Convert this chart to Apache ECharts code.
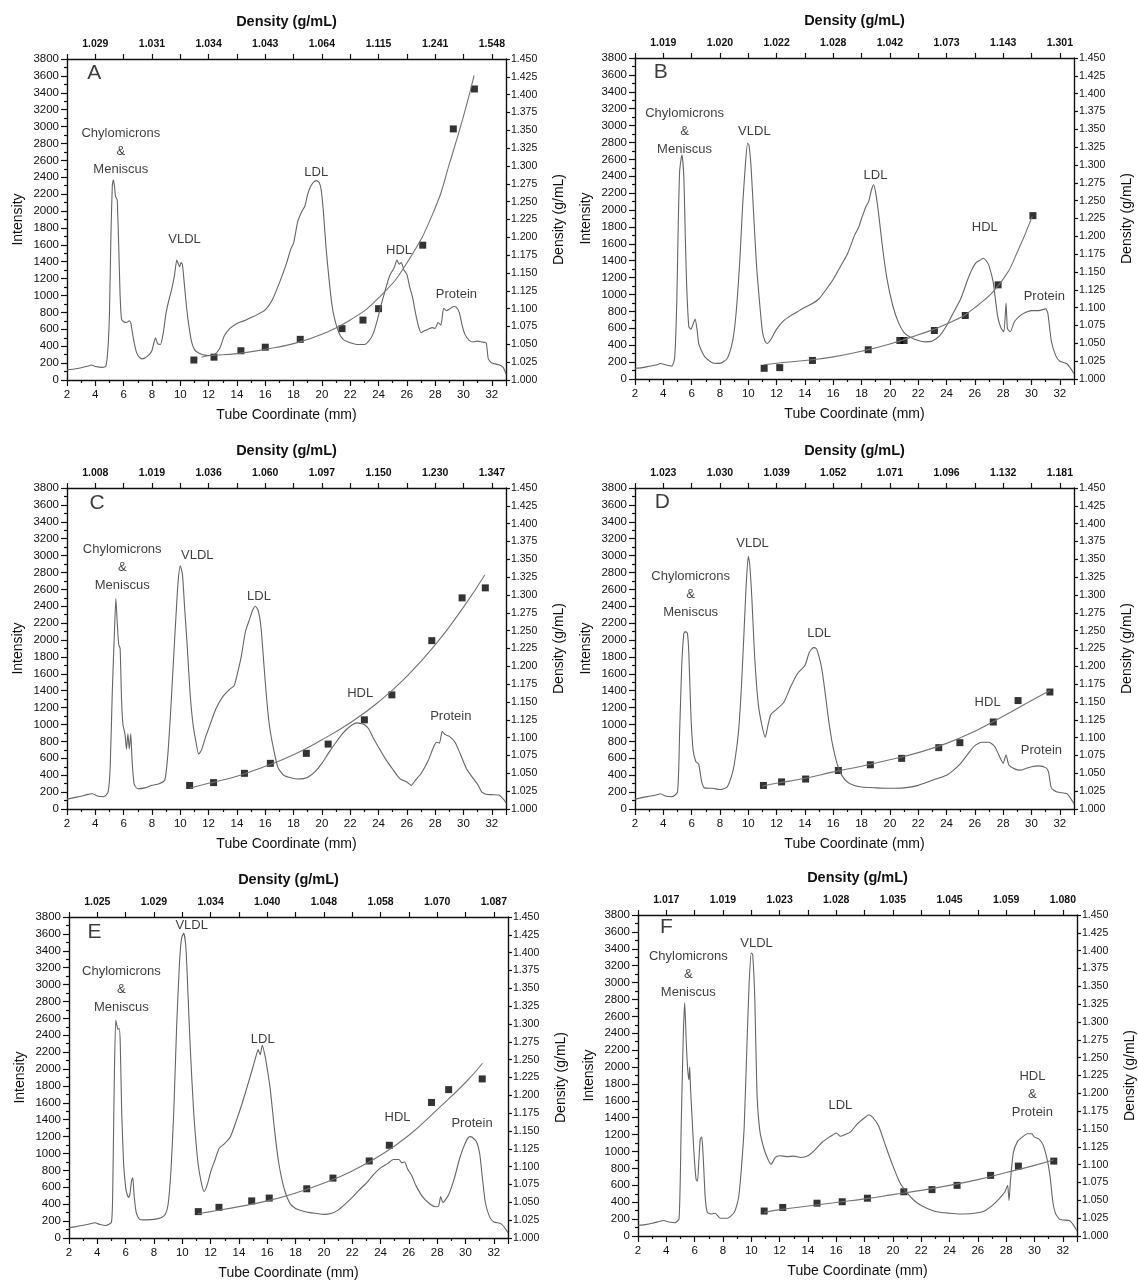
<!DOCTYPE html>
<html>
<head>
<meta charset="utf-8">
<title>Lipoprotein density profiles</title>
<script src="https://cdn.jsdelivr.net/npm/echarts@6/dist/echarts.min.js"></script>
<style>
  html, body { margin: 0; padding: 0; background: #ffffff; }
  #chart { width: 1138px; height: 1285px; }
</style>
</head>
<body>
<div id="chart"></div>
<script>
// ---- Intensity traces: [tube coordinate (mm), intensity] ----
const traceA = [[2.0,120],[2.5,130],[3.0,145],[3.5,165],[3.7,178],[4.0,160],[4.5,150],[4.75,165],[4.9,400],[5.0,800],[5.1,1700],[5.2,2300],[5.27,2370],[5.35,2300],[5.42,2180],[5.5,2150],[5.55,2130],[5.65,1600],[5.75,1000],[5.85,720],[6.0,690],[6.2,680],[6.4,700],[6.5,680],[6.7,480],[6.9,330],[7.1,270],[7.3,250],[7.5,260],[7.8,300],[8.0,350],[8.15,450],[8.25,500],[8.4,430],[8.6,420],[8.8,560],[9.0,800],[9.2,950],[9.4,1080],[9.6,1250],[9.75,1420],[9.85,1380],[9.95,1340],[10.05,1390],[10.15,1370],[10.3,1110],[10.45,850],[10.6,650],[10.8,450],[11.0,360],[11.3,320],[11.6,300],[12.0,290],[12.4,300],[12.8,380],[13.1,520],[13.5,610],[14.0,670],[14.5,700],[15.0,740],[15.5,780],[16.0,830],[16.5,950],[17.0,1150],[17.5,1380],[17.8,1550],[18.0,1620],[18.3,1880],[18.6,2000],[18.8,2060],[19.0,2200],[19.2,2290],[19.4,2340],[19.6,2360],[19.8,2340],[19.95,2250],[20.1,2000],[20.3,1550],[20.5,1200],[20.7,900],[20.9,720],[21.2,560],[21.5,480],[22.0,440],[22.5,420],[23.0,420],[23.3,460],[23.6,540],[23.9,700],[24.2,900],[24.5,1080],[24.8,1240],[25.1,1330],[25.3,1420],[25.45,1370],[25.6,1390],[25.8,1300],[26.0,1250],[26.2,1100],[26.4,980],[26.6,800],[26.8,650],[27.0,560],[27.2,580],[27.5,600],[27.8,620],[28.0,610],[28.2,680],[28.4,650],[28.6,850],[28.8,820],[29.0,840],[29.3,870],[29.5,860],[29.7,800],[29.9,650],[30.1,540],[30.4,470],[30.7,450],[31.0,460],[31.3,450],[31.6,440],[31.75,250],[32.0,200],[32.5,180],[32.8,150],[33.0,70]];
const traceB = [[2.0,125],[2.5,135],[3.0,150],[3.5,165],[3.8,183],[4.2,165],[4.6,152],[4.8,250],[4.95,900],[5.05,1800],[5.15,2450],[5.25,2600],[5.32,2650],[5.45,2380],[5.55,1700],[5.65,1100],[5.8,620],[5.95,590],[6.1,650],[6.25,710],[6.4,560],[6.5,420],[6.8,300],[7.0,250],[7.5,190],[8.0,185],[8.5,240],[8.8,380],[9.0,560],[9.2,900],[9.4,1400],[9.6,2050],[9.8,2550],[9.95,2790],[10.05,2770],[10.2,2500],[10.4,1880],[10.6,1300],[10.8,900],[11.0,560],[11.2,440],[11.35,420],[11.6,470],[12.0,590],[12.5,690],[13.0,750],[13.5,800],[14.0,850],[14.5,890],[15.0,950],[15.5,1060],[16.0,1180],[16.5,1330],[17.0,1480],[17.5,1700],[17.8,1800],[18.0,1900],[18.3,2040],[18.5,2100],[18.7,2240],[18.85,2300],[19.0,2200],[19.2,1960],[19.5,1530],[19.8,1180],[20.2,870],[20.6,670],[21.0,550],[21.5,490],[22.0,455],[22.5,440],[23.0,450],[23.5,510],[24.0,630],[24.5,790],[25.0,950],[25.5,1180],[25.8,1300],[26.1,1380],[26.4,1410],[26.6,1430],[26.8,1400],[27.0,1340],[27.3,1140],[27.6,750],[27.85,600],[28.05,560],[28.2,900],[28.3,600],[28.5,560],[28.8,680],[29.2,750],[29.6,790],[30.0,810],[30.5,810],[31.0,830],[31.15,780],[31.4,450],[31.7,280],[32.0,210],[32.5,180],[32.9,90],[33.0,60]];
const traceC = [[2.0,117],[2.5,135],[3.0,150],[3.4,170],[3.8,180],[4.2,150],[4.6,145],[4.9,200],[5.05,500],[5.2,1400],[5.35,2100],[5.45,2490],[5.55,2200],[5.65,1950],[5.75,1900],[5.85,1300],[5.95,1000],[6.1,880],[6.2,710],[6.3,890],[6.4,710],[6.5,890],[6.6,560],[6.75,290],[7.0,240],[7.5,250],[8.0,280],[8.5,300],[8.9,340],[9.1,600],[9.3,1100],[9.5,1700],[9.7,2300],[9.85,2700],[10.0,2880],[10.15,2780],[10.3,2400],[10.5,1900],[10.7,1350],[10.9,1000],[11.1,800],[11.3,650],[11.5,700],[11.8,860],[12.0,950],[12.5,1180],[13.0,1330],[13.5,1420],[13.8,1460],[14.0,1580],[14.3,1800],[14.6,2100],[14.9,2250],[15.1,2350],[15.3,2400],[15.5,2350],[15.7,2150],[15.9,1720],[16.1,1300],[16.3,980],[16.6,700],[16.9,490],[17.3,400],[17.8,370],[18.3,355],[18.7,360],[19.0,375],[19.5,440],[20.0,540],[20.5,670],[21.0,790],[21.5,900],[22.0,980],[22.5,1020],[22.8,1010],[23.0,1000],[23.3,950],[23.6,850],[24.0,730],[24.5,590],[25.0,470],[25.5,360],[26.0,320],[26.3,280],[26.6,340],[27.0,420],[27.5,570],[27.9,740],[28.1,790],[28.3,780],[28.5,920],[28.7,880],[29.0,860],[29.4,790],[29.8,640],[30.2,480],[30.6,380],[31.0,290],[31.3,200],[31.6,175],[32.0,170],[32.5,165],[32.9,100],[33.0,70]];
const traceD = [[2.0,117],[2.5,135],[3.0,150],[3.5,165],[3.8,180],[4.2,150],[4.6,145],[5.0,200],[5.15,900],[5.3,1700],[5.45,2080],[5.55,2100],[5.7,2080],[5.8,1850],[5.95,1100],[6.1,700],[6.3,560],[6.5,530],[6.7,330],[6.9,250],[7.5,245],[8.0,230],[8.5,260],[8.8,380],[9.0,520],[9.3,900],[9.5,1400],[9.7,2100],[9.85,2650],[10.0,2990],[10.1,2900],[10.25,2500],[10.45,1800],[10.7,1250],[10.95,1000],[11.2,850],[11.4,1000],[11.6,1120],[12.0,1180],[12.5,1260],[13.0,1450],[13.5,1610],[14.0,1700],[14.3,1850],[14.6,1910],[14.8,1900],[15.0,1800],[15.2,1650],[15.4,1410],[15.7,1020],[16.0,720],[16.4,470],[16.8,350],[17.3,290],[18.0,260],[19.0,250],[20.0,245],[21.0,250],[22.0,280],[23.0,340],[24.0,400],[24.5,460],[25.0,540],[25.5,650],[26.0,750],[26.5,790],[27.0,790],[27.4,740],[27.8,600],[28.0,540],[28.2,640],[28.4,520],[28.8,475],[29.2,460],[29.6,480],[30.0,500],[30.5,510],[31.0,490],[31.2,440],[31.4,250],[31.8,200],[32.5,180],[32.9,90],[33.0,60]];
const traceE = [[2.0,121],[2.5,135],[3.0,150],[3.5,168],[3.8,180],[4.2,160],[4.6,148],[5.0,187],[5.1,700],[5.2,1900],[5.3,2580],[5.38,2520],[5.45,2470],[5.55,2480],[5.62,2300],[5.72,1500],[5.85,900],[6.0,600],[6.1,520],[6.2,480],[6.3,520],[6.42,680],[6.5,715],[6.6,500],[6.75,300],[7.0,220],[7.5,215],[8.0,220],[8.5,240],[8.8,280],[9.0,400],[9.2,800],[9.4,1500],[9.6,2500],[9.8,3250],[9.95,3550],[10.1,3610],[10.25,3450],[10.4,2900],[10.55,2300],[10.8,1500],[11.1,900],[11.35,650],[11.55,550],[11.8,650],[12.0,780],[12.3,920],[12.6,1060],[13.0,1120],[13.4,1200],[13.8,1380],[14.2,1580],[14.6,1800],[15.0,2030],[15.2,2150],[15.35,2230],[15.5,2170],[15.65,2280],[15.85,2150],[16.0,2000],[16.2,1780],[16.5,1300],[16.8,900],[17.2,580],[17.6,410],[18.0,350],[18.5,320],[19.0,300],[19.5,290],[20.0,280],[20.5,290],[21.0,330],[21.5,400],[22.0,480],[22.5,570],[23.0,650],[23.5,750],[24.0,830],[24.5,880],[24.9,930],[25.3,930],[25.5,890],[25.7,900],[25.9,820],[26.2,740],[26.5,620],[27.0,480],[27.5,400],[27.9,370],[28.1,380],[28.25,490],[28.4,420],[28.8,510],[29.2,700],[29.6,950],[30.0,1130],[30.3,1200],[30.5,1190],[30.8,1130],[31.0,1000],[31.2,700],[31.4,420],[31.7,250],[32.0,190],[32.5,170],[32.9,90],[33.0,60]];
const traceF = [[2.0,125],[2.5,135],[3.0,150],[3.5,172],[3.8,184],[4.2,165],[4.6,156],[4.9,203],[5.05,1300],[5.2,2390],[5.3,2760],[5.42,2240],[5.52,1950],[5.6,1850],[5.65,2000],[5.7,1780],[5.85,1300],[5.95,985],[6.1,670],[6.2,650],[6.3,900],[6.4,1150],[6.5,1170],[6.6,950],[6.75,450],[6.9,280],[7.2,260],[7.45,270],[7.8,210],[8.3,210],[8.8,280],[9.1,450],[9.3,800],[9.5,1300],[9.7,2300],[9.85,3000],[10.0,3350],[10.1,3330],[10.25,2800],[10.4,1700],[10.6,1250],[10.9,1030],[11.2,900],[11.4,850],[11.7,930],[12.0,950],[12.5,940],[13.0,945],[13.5,930],[14.0,950],[14.5,1020],[15.0,1110],[15.5,1170],[15.8,1200],[16.0,1220],[16.3,1180],[16.6,1200],[17.0,1230],[17.5,1330],[18.0,1400],[18.3,1435],[18.6,1400],[19.0,1300],[19.5,1060],[20.0,830],[20.5,630],[21.0,510],[21.5,420],[22.0,360],[23.0,290],[24.0,270],[25.0,260],[26.0,275],[26.5,300],[27.0,360],[27.5,440],[27.9,520],[28.1,600],[28.2,420],[28.3,650],[28.5,980],[28.8,1120],[29.2,1180],[29.5,1210],[29.8,1210],[30.0,1170],[30.3,1150],[30.6,1080],[30.9,900],[31.1,700],[31.3,400],[31.5,260],[31.8,195],[32.5,180],[32.9,90],[33.0,60]];

// ---- Measured fraction densities: [tube coordinate (mm), density (g/mL)] ----
const densityA = [[10.96,1.028],[12.38,1.032],[14.28,1.041],[16.0,1.046],[18.47,1.057],[21.42,1.072],[22.9,1.084],[24.0,1.100],[27.12,1.189],[29.28,1.352],[30.77,1.408]];
const densityB = [[11.12,1.015],[12.22,1.016],[14.53,1.026],[18.47,1.041],[20.7,1.054],[21.0,1.054],[23.14,1.068],[25.32,1.089],[27.64,1.132],[30.1,1.229]];
const densityC = [[10.66,1.033],[12.35,1.037],[14.53,1.050],[16.36,1.064],[18.9,1.078],[20.44,1.091],[23.0,1.125],[24.94,1.160],[27.76,1.236],[29.9,1.296],[31.54,1.310]];
const densityD = [[11.07,1.033],[12.35,1.038],[14.05,1.042],[16.36,1.054],[18.62,1.062],[20.83,1.071],[23.45,1.086],[24.94,1.093],[27.3,1.122],[29.05,1.152],[31.3,1.164]];
const densityE = [[11.13,1.037],[12.59,1.043],[14.9,1.052],[16.14,1.056],[18.79,1.069],[20.64,1.084],[23.2,1.108],[24.62,1.130],[27.6,1.190],[28.81,1.208],[31.18,1.223]];
const densityF = [[10.91,1.035],[12.22,1.040],[14.64,1.046],[16.42,1.048],[18.2,1.053],[20.77,1.062],[22.76,1.065],[24.53,1.071],[26.9,1.085],[28.86,1.098],[31.36,1.105]];

// ---- Fitted density gradients: [tube coordinate (mm), density (g/mL)] ----
const fitA = [[11.5,1.032],[12,1.034],[14,1.037],[16,1.043],[18,1.051],[20,1.064],[22,1.084],[24,1.115],[26,1.164],[28,1.241],[29,1.303],[30,1.370],[30.75,1.427]];
const fitB = [[11.1,1.020],[12,1.022],[14,1.026],[16,1.031],[18,1.039],[20,1.049],[22,1.062],[24,1.077],[26,1.100],[28,1.140],[29,1.178],[30.05,1.228]];
const fitC = [[10.66,1.029],[12,1.036],[14,1.046],[16,1.060],[18,1.076],[20,1.097],[22,1.121],[24,1.150],[26,1.186],[28,1.230],[30,1.283],[31.5,1.328]];
const fitD = [[11.0,1.032],[12,1.036],[14,1.043],[16,1.052],[18,1.060],[20,1.069],[22,1.079],[24,1.092],[26,1.109],[28,1.130],[30,1.152],[31.3,1.166]];
const fitE = [[11.1,1.034],[12,1.037],[14,1.044],[16,1.052],[18,1.063],[20,1.077],[22,1.094],[24,1.116],[26,1.144],[28,1.180],[30,1.218],[31.2,1.245]];
const fitF = [[10.9,1.033],[12,1.037],[14,1.042],[16,1.047],[18,1.052],[20,1.058],[22,1.064],[24,1.071],[26,1.079],[28,1.089],[30,1.099],[31.36,1.107]];

// ---- Top-axis density tick labels (at 4, 8, ... 32 mm) ----
const topTicksA = ['1.029','1.031','1.034','1.043','1.064','1.115','1.241','1.548'];
const topTicksB = ['1.019','1.020','1.022','1.028','1.042','1.073','1.143','1.301'];
const topTicksC = ['1.008','1.019','1.036','1.060','1.097','1.150','1.230','1.347'];
const topTicksD = ['1.023','1.030','1.039','1.052','1.071','1.096','1.132','1.181'];
const topTicksE = ['1.025','1.029','1.034','1.040','1.048','1.058','1.070','1.087'];
const topTicksF = ['1.017','1.019','1.023','1.028','1.035','1.045','1.059','1.080'];

// ---- Peak annotations: [tube coordinate, intensity, text] ----
const CM = 'Chylomicrons\n&\nMeniscus';
const notesA = [[5.8,2707,CM],[10.3,1660,'VLDL'],[19.6,2461,'LDL'],[25.45,1535,'HDL'],[29.5,1016,'Protein']];
const notesB = [[5.5,2934,CM],[10.43,2926,'VLDL'],[18.98,2415,'LDL'],[26.7,1791,'HDL'],[30.9,972,'Protein']];
const notesC = [[5.9,2860,CM],[11.2,3004,'VLDL'],[15.56,2517,'LDL'],[22.7,1373,'HDL'],[29.1,1092,'Protein']];
const notesD = [[5.93,2536,CM],[10.3,3141,'VLDL'],[15.0,2076,'LDL'],[26.9,1256,'HDL'],[30.7,698,'Protein']];
const notesE = [[5.7,2940,CM],[10.66,3702,'VLDL'],[15.68,2355,'LDL'],[25.2,1425,'HDL'],[30.46,1359,'Protein']];
const notesF = [[5.55,3096,CM],[10.37,3468,'VLDL'],[16.29,1540,'LDL'],[29.85,1677,'HDL\n&\nProtein']];

// ---- Panel letters: [tube coordinate, intensity, letter] ----
const letterA = [3.93,3633,'A'];
const letterB = [3.82,3636,'B'];
const letterC = [4.13,3617,'C'];
const letterD = [3.93,3636,'D'];
const letterE = [3.80,3624,'E'];
const letterF = [4.00,3651,'F'];

const FONT = "'Liberation Sans', Arial, Helvetica, sans-serif";
const INK = '#111111';

const panels = [
  { grid: { left: 67,  top: 59,  width: 439, height: 321 }, trace: traceA, density: densityA, fit: fitA, top: topTicksA, notes: notesA, letter: letterA },
  { grid: { left: 635, top: 58,  width: 439, height: 321 }, trace: traceB, density: densityB, fit: fitB, top: topTicksB, notes: notesB, letter: letterB },
  { grid: { left: 67,  top: 488, width: 439, height: 321 }, trace: traceC, density: densityC, fit: fitC, top: topTicksC, notes: notesC, letter: letterC },
  { grid: { left: 635, top: 488, width: 439, height: 321 }, trace: traceD, density: densityD, fit: fitD, top: topTicksD, notes: notesD, letter: letterD },
  { grid: { left: 69,  top: 917, width: 439, height: 321 }, trace: traceE, density: densityE, fit: fitE, top: topTicksE, notes: notesE, letter: letterE },
  { grid: { left: 638, top: 915, width: 439, height: 321 }, trace: traceF, density: densityF, fit: fitF, top: topTicksF, notes: notesF, letter: letterF }
];

const axisLine = { show: true, onZero: false, lineStyle: { color: INK, width: 1.4 } };
const tickLine = { color: INK, width: 1.2 };

const grids = [], xAxes = [], yAxes = [], series = [];

panels.forEach((p, i) => {
  grids.push(Object.assign({ containLabel: false }, p.grid));

  // bottom: tube coordinate
  xAxes.push({
    gridIndex: i, type: 'value', position: 'bottom', min: 2, max: 33, interval: 2,
    axisLine: axisLine,
    axisTick: { show: true, length: 6, lineStyle: tickLine },
    minorTick: { show: true, splitNumber: 2, length: 3, lineStyle: tickLine },
    splitLine: { show: false }, minorSplitLine: { show: false },
    axisLabel: { fontFamily: FONT, fontSize: 11.5, color: INK, margin: 9, showMaxLabel: false, formatter: v => String(v) },
    name: 'Tube Coordinate (mm)', nameLocation: 'middle', nameGap: 28,
    nameTextStyle: { fontFamily: FONT, fontSize: 14, color: INK }
  });
  // top: density at the tube coordinate
  const tops = p.top;
  xAxes.push({
    gridIndex: i, type: 'value', position: 'top', min: 2, max: 33, interval: 2,
    axisLine: axisLine,
    axisTick: { show: true, length: 5, lineStyle: tickLine },
    splitLine: { show: false },
    axisLabel: {
      fontFamily: FONT, fontSize: 10.5, fontWeight: 'bold', color: INK, margin: 9, showMaxLabel: false,
      formatter: v => (v % 4 === 0 && v >= 4 && v <= 32) ? tops[v / 4 - 1] : ''
    },
    name: 'Density (g/mL)', nameLocation: 'middle', nameGap: 30,
    nameTextStyle: { fontFamily: FONT, fontSize: 14.5, fontWeight: 'bold', color: INK }
  });

  // left: intensity
  yAxes.push({
    gridIndex: i, type: 'value', position: 'left', min: 0, max: 3800, interval: 200,
    axisLine: axisLine,
    axisTick: { show: true, length: 6, lineStyle: tickLine },
    minorTick: { show: true, splitNumber: 2, length: 3, lineStyle: tickLine },
    splitLine: { show: false }, minorSplitLine: { show: false },
    axisLabel: { fontFamily: FONT, fontSize: 11.5, color: INK, margin: 8, formatter: v => String(v) },
    name: 'Intensity', nameLocation: 'middle', nameGap: 42, nameRotate: 90,
    nameTextStyle: { fontFamily: FONT, fontSize: 14, color: INK }
  });
  // right: density
  yAxes.push({
    gridIndex: i, type: 'value', position: 'right', min: 1, max: 1.45, interval: 0.025,
    axisLine: axisLine,
    axisTick: { show: true, length: 4, lineStyle: tickLine },
    splitLine: { show: false },
    axisLabel: { fontFamily: FONT, fontSize: 10.5, color: INK, margin: 5, formatter: v => v.toFixed(3) },
    name: 'Density (g/mL)', nameLocation: 'middle', nameGap: 46, nameRotate: 90,
    nameTextStyle: { fontFamily: FONT, fontSize: 14, color: INK }
  });

  const xb = 2 * i, yl = 2 * i, yr = 2 * i + 1;

  series.push({
    type: 'line', xAxisIndex: xb, yAxisIndex: yl, data: p.trace,
    showSymbol: false, smooth: 0.2, silent: true,
    lineStyle: { color: '#656565', width: 1.1 }
  });
  series.push({
    type: 'line', xAxisIndex: xb, yAxisIndex: yr, data: p.fit,
    showSymbol: false, smooth: true, silent: true,
    lineStyle: { color: '#747474', width: 1.1 }
  });
  series.push({
    type: 'scatter', xAxisIndex: xb, yAxisIndex: yr, data: p.density,
    symbol: 'rect', symbolSize: 7, silent: true,
    itemStyle: { color: '#000000' }
  });
  series.push({
    type: 'scatter', xAxisIndex: xb, yAxisIndex: yl, symbolSize: 0, silent: true,
    data: p.notes.map(n => ({ value: [n[0], n[1]], name: n[2] })),
    label: {
      show: true, position: 'inside', formatter: '{b}',
      fontFamily: FONT, fontSize: 13, lineHeight: 18, color: '#0d0d0d', align: 'center'
    }
  });
  series.push({
    type: 'scatter', xAxisIndex: xb, yAxisIndex: yl, symbolSize: 0, silent: true,
    data: [{ value: [p.letter[0], p.letter[1]], name: p.letter[2] }],
    label: {
      show: true, position: 'inside', formatter: '{b}',
      fontFamily: FONT, fontSize: 21, color: '#0d0d0d'
    }
  });
});

const chart = echarts.init(document.getElementById('chart'), null, { renderer: 'canvas' });
chart.setOption({
  backgroundColor: '#ffffff',
  animation: false,
  textStyle: { fontFamily: FONT },
  grid: grids,
  xAxis: xAxes,
  yAxis: yAxes,
  series: series
});
</script>
</body>
</html>
